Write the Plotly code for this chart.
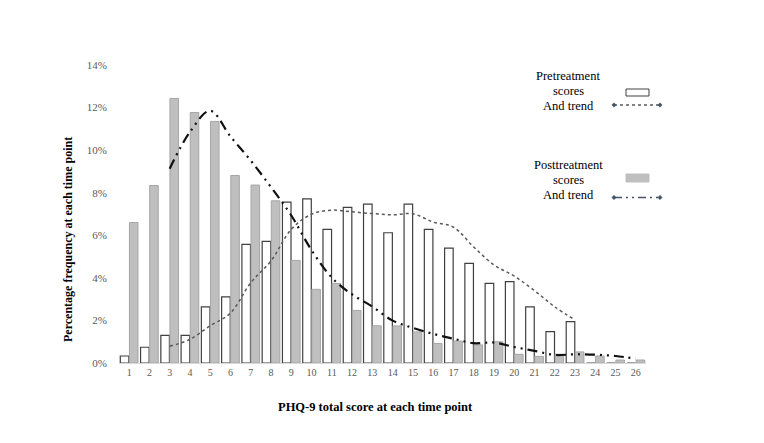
import plotly.graph_objects as go

scores = [str(i) for i in range(1, 27)]
pre_values = [0.33, 0.74, 1.30, 1.30, 2.64, 3.11, 5.57, 5.71, 7.56, 7.71, 6.28, 7.31, 7.46,
              6.12, 7.46, 6.28, 5.40, 4.68, 3.74, 3.82, 2.64, 1.47, 1.94, 0, 0, 0]
post_values = [6.60, 8.34, 12.43, 11.77, 11.35, 8.81, 8.36, 7.62, 4.82, 3.46, 3.74, 2.47, 1.75,
               1.74, 1.46, 0.92, 1.03, 0.85, 1.00, 0.41, 0.31, 0.41, 0.52, 0.33, 0.14, 0.14]
pre_trend_x = [str(i) for i in range(3, 24)]
pre_trend = [0.79, 1.11, 1.75, 2.35, 3.77, 4.80, 6.28, 6.99, 7.18, 7.10, 7.02, 6.96, 7.01,
             6.62, 6.38, 5.45, 4.61, 4.08, 3.40, 2.64, 2.02]
post_trend_x = [str(i) for i in range(3, 27)]
post_trend = [9.13, 10.85, 11.85, 10.64, 9.51, 8.26, 6.93, 5.30, 4.01, 3.22, 2.65, 1.99, 1.65,
              1.37, 1.14, 0.93, 0.96, 0.75, 0.57, 0.38, 0.41, 0.39, 0.33, 0.20]
y_ticks = [0, 2, 4, 6, 8, 10, 12, 14]
y_tick_labels = ["0%", "2%", "4%", "6%", "8%", "10%", "12%", "14%"]
pre_legend_lines = ["Pretreatment", "scores", "And trend"]
post_legend_lines = ["Posttreatment", "scores", "And trend"]

OFF = 8  # page body margin
W, H = 764 - OFF, 443 - OFF
# plot area in window pixels (reference)
L, R, T, B = 119, 646, 65, 363
FONT = "Liberation Serif"

def px(x):
    return (x - L) / (R - L)

def py(y):
    return (B - y) / (B - T)

fig = go.Figure()
fig.add_trace(go.Bar(x=scores, y=pre_values, name="Pretreatment",
                     marker=dict(color="white", line=dict(color="#404040", width=1.2))))
fig.add_trace(go.Bar(x=scores, y=post_values, name="Posttreatment",
                     marker=dict(color="#BFBFBF", line=dict(color="#A6A6A6", width=1))))
fig.add_trace(go.Scatter(x=pre_trend_x, y=pre_trend, mode="lines", line_shape="spline",
                         line=dict(color="#595959", width=1.5, dash="dot")))
fig.add_trace(go.Scatter(x=post_trend_x, y=post_trend, mode="lines", line_shape="spline",
                         line=dict(color="#111111", width=2.2, dash="10px,5px,2px,5px,2px,5px")))

shapes = []
annotations = []
for i, t in enumerate(pre_legend_lines):
    annotations.append(dict(x=px(568), y=py(76 + 15 * i), xref="paper", yref="paper",
                            xanchor="center", yanchor="middle", text=t, showarrow=False,
                            font=dict(family=FONT, size=12.5, color="black")))
for i, t in enumerate(post_legend_lines):
    annotations.append(dict(x=px(568), y=py(165 + 15 * i), xref="paper", yref="paper",
                            xanchor="center", yanchor="middle", text=t, showarrow=False,
                            font=dict(family=FONT, size=12.5, color="black")))
# legend boxes
shapes.append(dict(type="rect", xref="paper", yref="paper", x0=px(626), x1=px(649),
                   y0=py(96), y1=py(89), fillcolor="white", line=dict(color="#404040", width=1)))
shapes.append(dict(type="rect", xref="paper", yref="paper", x0=px(626), x1=px(649),
                   y0=py(182), y1=py(174), fillcolor="#BFBFBF", line=dict(color="#BFBFBF", width=1)))
# legend lines
shapes.append(dict(type="line", xref="paper", yref="paper", x0=px(614), x1=px(660),
                   y0=py(105), y1=py(105), line=dict(color="#595959", width=1.3, dash="dot")))
shapes.append(dict(type="line", xref="paper", yref="paper", x0=px(614), x1=px(660),
                   y0=py(197.5), y1=py(197.5),
                   line=dict(color="#44546A", width=1.5, dash="8px,4px,2px,4px,2px,4px")))
for (cx, cy) in [(614, 105), (660, 105), (614, 197.5), (660, 197.5)]:
    d = 2.2
    shapes.append(dict(type="path", xref="paper", yref="paper",
                       path=f"M {px(cx-d)} {py(cy)} L {px(cx)} {py(cy-d)} L {px(cx+d)} {py(cy)} L {px(cx)} {py(cy+d)} Z",
                       fillcolor="#44546A", line=dict(color="#44546A", width=0.5)))

annotations.append(dict(x=px(375), y=py(407), xref="paper", yref="paper",
                        xanchor="center", yanchor="middle",
                        text="<b>PHQ-9 total score at each time point</b>", showarrow=False,
                        font=dict(family=FONT, size=12.5, color="black")))
annotations.append(dict(x=px(68), y=py(240), xref="paper", yref="paper", textangle=-90,
                        xanchor="center", yanchor="middle",
                        text="<b>Percentage frequency at each time point</b>", showarrow=False,
                        font=dict(family=FONT, size=12, color="black")))

fig.update_layout(
    width=W, height=H,
    margin=dict(l=L - OFF, r=W - (R - OFF), t=T - OFF, b=H - (B - OFF), pad=0),
    paper_bgcolor="white", plot_bgcolor="white",
    showlegend=False,
    barmode="group", bargap=0.1, bargroupgap=0.06,
    shapes=shapes, annotations=annotations,
    font=dict(family=FONT),
)
fig.update_xaxes(type="category", range=[-0.5, 25.5], showgrid=False, showline=True,
                 linecolor="#D9D9D9", linewidth=1, ticks="",
                 tickfont=dict(family=FONT, size=10, color="#595959"))
fig.update_yaxes(range=[0, 14], tickvals=y_ticks, ticktext=y_tick_labels, showgrid=False,
                 zeroline=False, showline=False, ticks="", ticklabelstandoff=11,
                 tickfont=dict(family=FONT, size=11, color="#595959"))

fig.write_html("out.html")
